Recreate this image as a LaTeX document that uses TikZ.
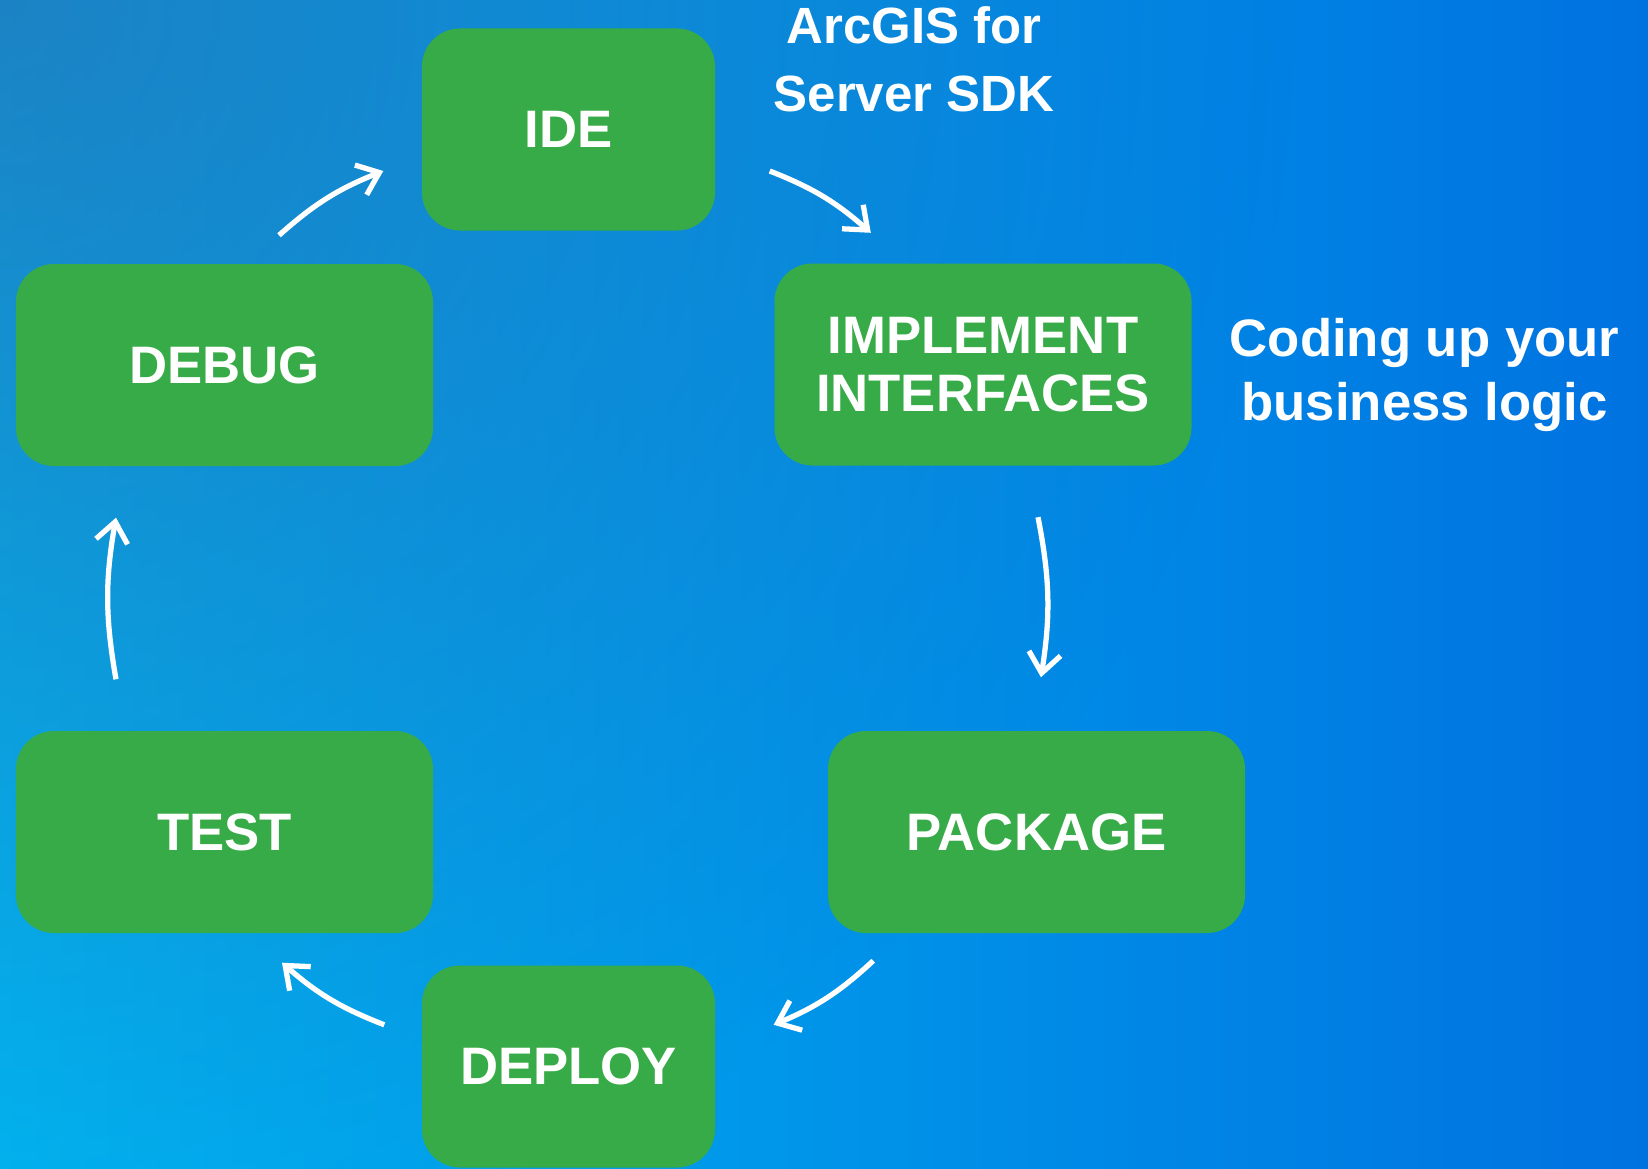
\documentclass[tikz,border=0pt]{standalone}
\usepackage{fontspec}
\setmainfont{Liberation Sans}
\usetikzlibrary{arrows.meta,fadings,positioning}
\definecolor{boxgreen}{RGB}{55,171,71}
\definecolor{bgcyan}{RGB}{0,182,242}
\definecolor{bgblue}{RGB}{0,114,224}
\definecolor{bgdark}{RGB}{50,90,160}
\tikzfading[name=cornerfade, inner color=transparent!45, outer color=transparent!100]

\begin{document}
\begin{tikzpicture}
[stage/.style={rectangle, rounded corners=3.8mm, fill=boxgreen, text=white, inner sep=0pt, align=center,
   font=\fontsize{15}{16.5}\selectfont\bfseries, minimum width=41.7mm, minimum height=20.2mm},
stagesmall/.style={stage, minimum width=29.3mm},
note/.style={text=white, inner sep=0pt, align=center, font=\fontsize{15}{18}\selectfont\bfseries},
cyclearrow/.style={draw=white, line width=1.5pt, -{Straight Barb[length=2mm,width=3.2mm]}}]

% background
\clip (0,0) rectangle (16.48,11.68);
\shade[left color=bgcyan, right color=bgblue] (0,0) rectangle (16.48,11.68);
\fill[bgdark, path fading=cornerfade] (0,11.68) circle (13);

% stages
\node[stagesmall] (ide) at (5.685,10.385) {IDE};
\node[stage] (impl) at (9.83,8.035) {IMPLEMENT\\INTERFACES};
\node[stage] (package) at (10.365,3.36) {PACKAGE};
\node[stagesmall] (deploy) at (5.685,1.015) {DEPLOY};
\node[stage] (test) at (2.245,3.36) {TEST};
\node[stage] (debug) at (2.245,8.03) {DEBUG};

% notes
\node[note, font=\fontsize{14.5}{19.3}\selectfont\bfseries] (sdk) at (9.14,11.09) {ArcGIS for\\Server SDK};
\node[note] (logic) at (14.245,7.93) {Coding up your\\business logic};

% cycle
\draw[cyclearrow] ([xshift=5.4mm,yshift=-4.15mm]ide.east) to[bend left=10] ([xshift=9.7mm,yshift=3mm]impl.north west);
\draw[cyclearrow] ([xshift=5.5mm,yshift=-5.1mm]impl.south) to[bend left=10] ([xshift=0.45mm,yshift=5.3mm]package.north);
\draw[cyclearrow] ([xshift=4.6mm,yshift=-2.7mm]package.south west) to[bend left=10] ([xshift=5.8mm,yshift=-6mm]deploy.north east);
\draw[cyclearrow] ([xshift=-3.7mm,yshift=-6mm]deploy.north west) to[bend left=10] ([xshift=5.75mm,yshift=-2.9mm]test.south);
\draw[cyclearrow] ([xshift=-10.85mm,yshift=5.1mm]test.north) to[bend left=10] ([xshift=-10.85mm,yshift=-5.1mm]debug.south);
\draw[cyclearrow] ([xshift=5.45mm,yshift=2.8mm]debug.north) to[bend left=10] ([xshift=-3.8mm,yshift=-4.15mm]ide.west);
\end{tikzpicture}
\end{document}
